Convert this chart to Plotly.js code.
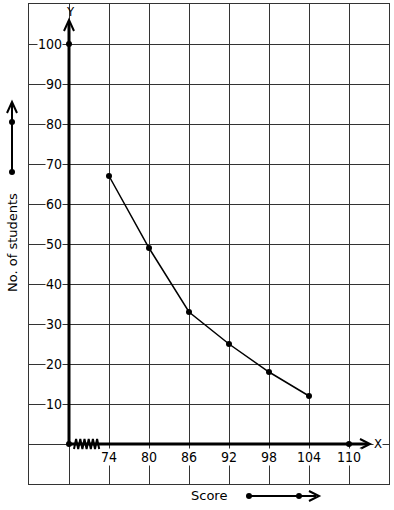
<!DOCTYPE html>
<html>
<head>
<meta charset="utf-8">
<script src="https://cdn.plot.ly/plotly-3.0.1.min.js"></script>
<style>html,body{margin:0;padding:0;background:#fff;}#chart{width:394px;height:510px;}</style>
</head>
<body>
<div id="chart"></div>
<script>
// Data
const scores = [74, 80, 86, 92, 98, 104];
const students = [67, 49, 33, 25, 18, 12];
const xTickLabels = [74, 80, 86, 92, 98, 104, 110];
const yTickLabels = [10, 20, 30, 40, 50, 60, 70, 80, 90, 100];
const xAxisTitle = 'Score';
const yAxisTitle = 'No. of students';

// Layout geometry (pixels)
const L = 29, T = 4, PW = 360, PH = 480;
const PX = p => (p - L) / PW;
const PY = p => (T + PH - p) / PH;
const FONT = '"DejaVu Sans Condensed", "DejaVu Sans", sans-serif';
const TFONT = '"DejaVu Sans", sans-serif';

const shapes = [];
function pline(pts, w) {
  let d = 'M' + pts.map(p => PX(p[0]).toFixed(5) + ',' + PY(p[1]).toFixed(5)).join(' L');
  shapes.push({type: 'path', xref: 'paper', yref: 'paper', path: d, line: {color: '#000', width: w}, layer: 'above'});
}
function pdot(x, y, r) {
  shapes.push({type: 'circle', xref: 'paper', yref: 'paper', x0: PX(x - r), x1: PX(x + r), y0: PY(y + r), y1: PY(y - r),
    fillcolor: '#000', line: {color: '#000', width: 0}, layer: 'above'});
}
// Y axis arrow
pline([[69, 444], [69, 22]], 3);
pline([[64, 31], [69, 20], [74, 31]], 2);
// X axis arrow
pline([[69, 444], [368, 444]], 3);
pline([[360, 439], [370, 444], [360, 449]], 2);
// zigzag break
const zz = [];
for (let i = 0; i <= 12; i++) zz.push([74 + i * 2.1, i % 2 ? 439 : 449]);
pline(zz, 2);
// left decoration arrow
pline([[12, 172], [12, 104]], 2);
pline([[7, 113], [12, 102], [17, 113]], 2);
pdot(12, 172, 3); pdot(12, 122, 3);
// bottom decoration arrow
pline([[249, 496], [316, 496]], 2);
pline([[309, 491], [319, 496], [309, 501]], 2);
pdot(249, 496, 3); pdot(299, 496, 3);

const annotations = [];
xTickLabels.forEach(v => annotations.push({x: v, y: -3.25, xref: 'x', yref: 'y', text: String(v), showarrow: false,
  font: {family: FONT, size: 14, color: '#000'}, bgcolor: '#fff', borderpad: 0, xanchor: 'center', yanchor: 'middle'}));
yTickLabels.forEach(v => annotations.push({x: PX(63), y: v, xref: 'paper', yref: 'y', text: String(v), showarrow: false,
  font: {family: FONT, size: 14, color: '#000'}, bgcolor: '#fff', borderpad: 0, xanchor: 'right', yanchor: 'middle'}));
annotations.push({x: PX(70), y: PY(11.5), xref: 'paper', yref: 'paper', text: 'Y', showarrow: false,
  font: {family: FONT, size: 13, color: '#000'}, xanchor: 'center', yanchor: 'middle'});
annotations.push({x: PX(378), y: PY(443), xref: 'paper', yref: 'paper', text: 'X', showarrow: false, bgcolor: '#fff', borderpad: 0,
  font: {family: FONT, size: 13, color: '#000'}, xanchor: 'center', yanchor: 'middle'});
annotations.push({x: PX(209), y: PY(496), xref: 'paper', yref: 'paper', text: xAxisTitle, showarrow: false,
  font: {family: TFONT, size: 13, color: '#000'}, xanchor: 'center', yanchor: 'middle'});
annotations.push({x: PX(12), y: PY(243), xref: 'paper', yref: 'paper', text: yAxisTitle, showarrow: false, textangle: -90,
  font: {family: TFONT, size: 13, color: '#000'}, xanchor: 'center', yanchor: 'middle'});

const traces = [
  {x: scores, y: students, type: 'scatter', mode: 'lines+markers',
   line: {color: '#000', width: 1.5}, marker: {color: '#000', size: 6}, cliponaxis: false, hoverinfo: 'skip'},
  {x: [68, 68, 110], y: [0, 100, 0], type: 'scatter', mode: 'markers',
   marker: {color: '#000', size: 6}, cliponaxis: false, hoverinfo: 'skip'}
];

const layout = {
  width: 394, height: 510,
  margin: {l: L, r: 394 - L - PW, t: T, b: 510 - T - PH, pad: 0},
  paper_bgcolor: '#fff', plot_bgcolor: '#fff',
  showlegend: false,
  xaxis: {range: [62, 116], tick0: 62, dtick: 6, showgrid: true, gridcolor: '#333', gridwidth: 1,
    zeroline: false, showticklabels: false, ticks: '', showline: true, mirror: true, linecolor: '#333', linewidth: 1, fixedrange: true},
  yaxis: {range: [-10, 110], tick0: -10, dtick: 10, showgrid: true, gridcolor: '#333', gridwidth: 1,
    zeroline: false, showticklabels: false, ticks: '', showline: true, mirror: true, linecolor: '#333', linewidth: 1, fixedrange: true},
  shapes: shapes,
  annotations: annotations
};

Plotly.newPlot('chart', traces, layout, {displayModeBar: false, staticPlot: true});
</script>
</body>
</html>
